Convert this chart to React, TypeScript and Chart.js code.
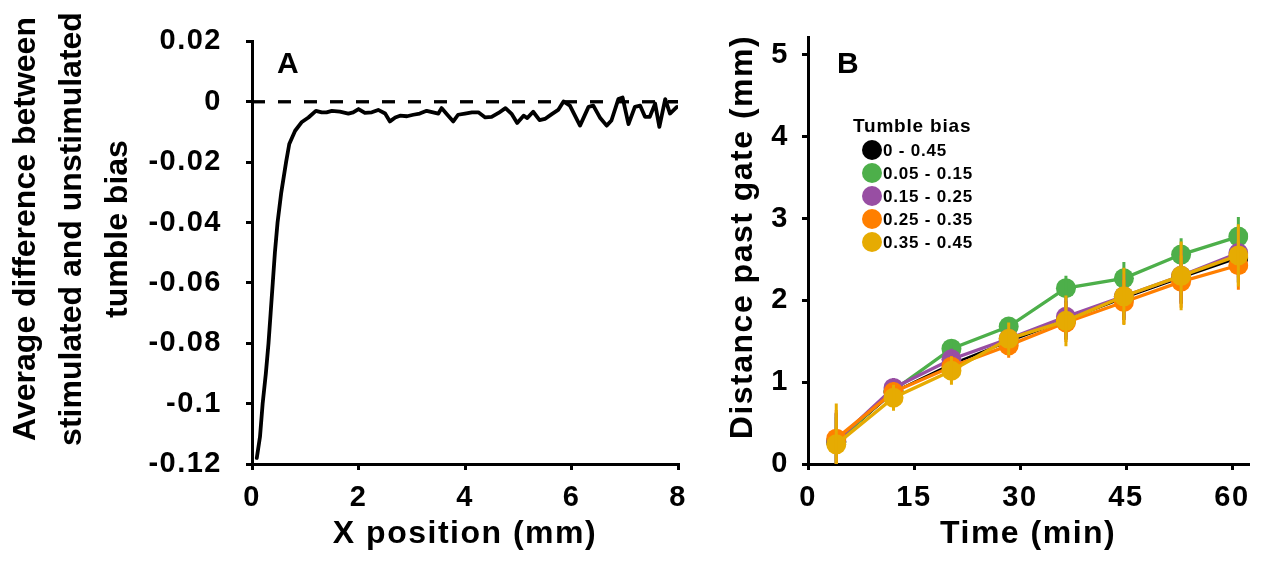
import React, { useEffect, useRef } from 'react';
import { Chart, registerables } from 'chart.js';

Chart.register(...registerables);

const FONT = '"Liberation Sans", Arial, Helvetica, sans-serif';
const TICK_SIZE = 29;
const TITLE_SIZE = 32;
const SPACING = '1.5px';

// ---------- Panel A ----------
const xPositionA = [
  0.09, 0.15, 0.2, 0.26, 0.31, 0.35, 0.39, 0.43, 0.48, 0.55,
  0.64, 0.7, 0.81, 0.93, 1.06, 1.2, 1.31, 1.4, 1.5, 1.65,
  1.81, 1.9, 2.0, 2.12, 2.25, 2.37, 2.5, 2.59, 2.69, 2.78,
  2.91, 3.03, 3.15, 3.28, 3.4, 3.5, 3.56, 3.66, 3.78, 3.87,
  4.0, 4.13, 4.25, 4.38, 4.5, 4.63, 4.76, 4.88, 4.98, 5.1,
  5.17, 5.28, 5.4, 5.5, 5.63, 5.75, 5.85, 5.97, 6.16, 6.32,
  6.41, 6.54, 6.66, 6.75, 6.88, 6.96, 7.07, 7.19, 7.29, 7.38,
  7.47, 7.57, 7.65, 7.76, 7.85, 7.98,
];
const tumbleBiasDiffA = [
  -0.118, -0.111, -0.1, -0.09, -0.08, -0.07, -0.06, -0.05, -0.04, -0.03,
  -0.02, -0.014, -0.0096, -0.0068, -0.0052, -0.003, -0.0035, -0.0035, -0.003, -0.0033,
  -0.0039, -0.0035, -0.0024, -0.0037, -0.0035, -0.0027, -0.0039, -0.0065, -0.0052, -0.0046,
  -0.0048, -0.0043, -0.0039, -0.003, -0.0035, -0.0039, -0.0021, -0.0041, -0.0065, -0.0043,
  -0.0039, -0.0035, -0.0035, -0.0052, -0.005, -0.0037, -0.0021, -0.0041, -0.007, -0.0046,
  -0.0054, -0.0033, -0.0061, -0.0057, -0.0041, -0.0027, 0.0001, -0.0013, -0.0079, -0.0017,
  -0.0013, -0.0054, -0.0079, -0.0062, 0.0009, 0.0014, -0.0074, -0.0017, -0.0013, -0.005,
  -0.005, -0.0006, -0.0083, 0.0009, -0.0039, -0.0017,
];
const zeroLineX = [0, 8];
const zeroLineY = [0, 0];
const yTicksA = [-0.12, -0.1, -0.08, -0.06, -0.04, -0.02, 0, 0.02];
const yTickLabelsA = ['-0.12', '-0.1', '-0.08', '-0.06', '-0.04', '-0.02', '0', '0.02'];
const xTicksA = [0, 2, 4, 6, 8];
const xTickLabelsA = ['0', '2', '4', '6', '8'];
const yTitleA = ['Average difference between', 'stimulated and unstimulated', 'tumble bias'];
const xTitleA = 'X position (mm)';
const panelLabelA = 'A';

// ---------- Panel B ----------
const timeB = [4.0, 12.1, 20.3, 28.4, 36.5, 44.7, 52.8, 60.9];
const bias0to045 = [0.27, 0.88, 1.22, 1.5, 1.76, 2.03, 2.28, 2.52];
const bias005to015 = [0.27, 0.9, 1.41, 1.68, 2.15, 2.27, 2.56, 2.78];
const bias015to025 = [0.28, 0.93, 1.28, 1.53, 1.8, 2.05, 2.3, 2.58];
const bias025to035 = [0.31, 0.88, 1.19, 1.45, 1.73, 1.98, 2.23, 2.43];
const bias035to045 = [0.24, 0.81, 1.14, 1.53, 1.75, 2.05, 2.3, 2.55];
const err0to045 = [0.35, 0.12, 0.12, 0.15, 0.24, 0.27, 0.32, 0.3];
const err005to015 = [0.3, 0.1, 0.1, 0.1, 0.15, 0.2, 0.2, 0.24];
const err015to025 = [0.35, 0.12, 0.13, 0.15, 0.24, 0.27, 0.32, 0.3];
const err025to035 = [0.35, 0.12, 0.13, 0.15, 0.24, 0.27, 0.32, 0.3];
const err035to045 = [0.5, 0.16, 0.17, 0.2, 0.31, 0.35, 0.42, 0.38];
const seriesLabelsB = ['0 - 0.45', '0.05 - 0.15', '0.15 - 0.25', '0.25 - 0.35', '0.35 - 0.45'];
const seriesColorsB = ['#000000', '#4daf4a', '#984ea3', '#ff7f00', '#e6ab02'];
const yTicksB = [0, 1, 2, 3, 4, 5];
const yTickLabelsB = ['0', '1', '2', '3', '4', '5'];
const xTicksB = [0, 15, 30, 45, 60];
const xTickLabelsB = ['0', '15', '30', '45', '60'];
const yTitleB = 'Distance past gate (mm)';
const xTitleB = 'Time (min)';
const legendTitleB = 'Tumble bias';
const panelLabelB = 'B';

const spacingPlugin = {
  id: 'spacing',
  beforeUpdate(chart: any) {
    (chart.ctx as any).letterSpacing = SPACING;
  },
  beforeDraw(chart: any) {
    (chart.ctx as any).letterSpacing = SPACING;
  },
};

function axisCommon(ticks: number[], labels: string[], padding: number) {
  return {
    type: 'linear' as const,
    afterBuildTicks: (s: any) => {
      s.ticks = ticks.map((v) => ({ value: v }));
    },
    ticks: {
      color: '#000',
      padding,
      autoSkip: false,
      maxRotation: 0,
      minRotation: 0,
      font: { family: FONT, size: TICK_SIZE, weight: 'bold' as const },
      callback: (v: any) => {
        const i = ticks.indexOf(v);
        return i >= 0 ? labels[i] : '';
      },
    },
    grid: {
      display: true,
      drawOnChartArea: false,
      drawTicks: true,
      tickLength: 6,
      lineWidth: 3,
      color: '#000',
    },
    border: { display: true, color: '#000', width: 3 },
    title: { display: false },
  };
}

function drawRotated(ctx: CanvasRenderingContext2D, text: string, x: number, y: number) {
  ctx.save();
  ctx.translate(x, y);
  ctx.rotate(-Math.PI / 2);
  ctx.textAlign = 'center';
  ctx.textBaseline = 'alphabetic';
  ctx.fillText(text, 0, 0);
  ctx.restore();
}

const textPluginA = {
  id: 'textA',
  afterDraw(chart: any) {
    const ctx: CanvasRenderingContext2D = chart.ctx;
    const ca = chart.chartArea;
    ctx.save();
    (ctx as any).letterSpacing = SPACING;
    ctx.fillStyle = '#000';
    ctx.font = `bold ${TITLE_SIZE}px ${FONT}`;
    ctx.textAlign = 'center';
    ctx.textBaseline = 'alphabetic';
    ctx.fillText(xTitleA, (ca.left + ca.right) / 2, 543);
    (ctx as any).letterSpacing = '0px';
    ctx.font = `bold 32px ${FONT}`;
    const baselines = [35, 81, 127];
    yTitleA.forEach((line, i) => drawRotated(ctx, line, baselines[i], 229));
    (ctx as any).letterSpacing = SPACING;
    ctx.font = `bold 30px ${FONT}`;
    ctx.textAlign = 'left';
    ctx.fillText(panelLabelA, ca.left + 25, 73);
    ctx.restore();
  },
};

const errorBarPlugin = {
  id: 'errorBars',
  afterDatasetDraw(chart: any, args: any) {
    const ds = chart.data.datasets[args.index];
    const errs: number[] | undefined = ds.errors;
    if (!errs) return;
    const ctx: CanvasRenderingContext2D = chart.ctx;
    const ca = chart.chartArea;
    const xs = chart.scales.x;
    const ys = chart.scales.y;
    ctx.save();
    ctx.beginPath();
    ctx.rect(ca.left, ca.top, ca.right - ca.left, ca.bottom - ca.top);
    ctx.clip();
    ctx.strokeStyle = ds.borderColor;
    ctx.lineWidth = 3;
    ds.data.forEach((p: any, i: number) => {
      const x = xs.getPixelForValue(p.x);
      const y1 = ys.getPixelForValue(p.y - errs[i]);
      const y2 = ys.getPixelForValue(p.y + errs[i]);
      ctx.beginPath();
      ctx.moveTo(x, y1);
      ctx.lineTo(x, y2);
      ctx.stroke();
    });
    ctx.restore();
  },
};

const textPluginB = {
  id: 'textB',
  afterDraw(chart: any) {
    const ctx: CanvasRenderingContext2D = chart.ctx;
    const ca = chart.chartArea;
    ctx.save();
    (ctx as any).letterSpacing = SPACING;
    ctx.fillStyle = '#000';
    ctx.font = `bold ${TITLE_SIZE}px ${FONT}`;
    ctx.textAlign = 'center';
    ctx.textBaseline = 'alphabetic';
    ctx.fillText(xTitleB, (ca.left + ca.right) / 2, 543);
    drawRotated(ctx, yTitleB, 52, 237);
    ctx.font = `bold 30px ${FONT}`;
    ctx.textAlign = 'left';
    ctx.fillText(panelLabelB, ca.left + 29, 73);
    // legend
    (ctx as any).letterSpacing = '0.8px';
    ctx.font = `bold 19px ${FONT}`;
    ctx.fillText(legendTitleB, ca.left + 45, 132);
    ctx.font = `bold 17px ${FONT}`;
    ctx.textBaseline = 'middle';
    chart.data.datasets.forEach((ds: any, i: number) => {
      const cy = 150 + i * 23;
      ctx.beginPath();
      ctx.fillStyle = ds.borderColor;
      ctx.arc(ca.left + 64, cy, 10, 0, Math.PI * 2);
      ctx.fill();
      ctx.fillStyle = '#000';
      ctx.fillText(ds.label, ca.left + 75, cy + 1);
    });
    ctx.restore();
  },
};

export default function App() {
  const refA = useRef<HTMLCanvasElement>(null);
  const refB = useRef<HTMLCanvasElement>(null);

  useEffect(() => {
    if (!refA.current || !refB.current) return;

    const chartA = new Chart(refA.current, {
      type: 'scatter',
      data: {
        datasets: [
          {
            label: 'difference',
            data: xPositionA.map((x, i) => ({ x, y: tumbleBiasDiffA[i] })),
            showLine: true,
            borderColor: '#000',
            borderWidth: 3.8,
            pointRadius: 0,
            borderJoinStyle: 'round',
            borderCapStyle: 'round',
          },
          {
            label: 'zero',
            data: zeroLineX.map((x, i) => ({ x, y: zeroLineY[i] })),
            showLine: true,
            borderColor: '#000',
            borderWidth: 3.3,
            borderDash: [13, 13],
            pointRadius: 0,
          },
        ],
      },
      options: {
        responsive: false,
        animation: false,
        devicePixelRatio: 1,
        layout: { padding: { left: 0, top: 40, right: 22, bottom: 0 } },
        plugins: { legend: { display: false }, tooltip: { enabled: false } },
        scales: {
          x: {
            ...axisCommon(xTicksA, xTickLabelsA, 11),
            min: 0,
            max: 8,
            afterFit: (s: any) => {
              s.height = 97;
            },
          },
          y: {
            ...axisCommon(yTicksA, yTickLabelsA, 24),
            min: -0.12,
            max: 0.02,
            afterFit: (s: any) => {
              s.width = 252;
            },
          },
        },
      } as any,
      plugins: [spacingPlugin, textPluginA],
    });

    const seriesB = [bias0to045, bias005to015, bias015to025, bias025to035, bias035to045];
    const errsB = [err0to045, err005to015, err015to025, err025to035, err035to045];
    const ordersB = [5, 4, 3, 2, 1];

    const chartB = new Chart(refB.current, {
      type: 'scatter',
      data: {
        datasets: seriesB.map((vals, k) => ({
          label: seriesLabelsB[k],
          data: timeB.map((x, i) => ({ x, y: vals[i] })),
          errors: errsB[k],
          showLine: true,
          borderColor: seriesColorsB[k],
          backgroundColor: seriesColorsB[k],
          borderWidth: k === 0 ? 2.5 : 3.3,
          pointRadius: 10,
          pointBorderWidth: 0,
          pointBackgroundColor: seriesColorsB[k],
          order: ordersB[k],
        })) as any,
      },
      options: {
        responsive: false,
        animation: false,
        devicePixelRatio: 1,
        layout: { padding: { left: 0, top: 37, right: 4, bottom: 0 } },
        plugins: { legend: { display: false }, tooltip: { enabled: false } },
        scales: {
          x: {
            ...axisCommon(xTicksB, xTickLabelsB, 11),
            min: 0,
            max: 62.3,
            afterFit: (s: any) => {
              s.height = 97;
            },
          },
          y: {
            ...axisCommon(yTicksB, yTickLabelsB, 13),
            min: 0,
            max: 5.22,
            afterFit: (s: any) => {
              s.width = 108;
            },
          },
        },
      } as any,
      plugins: [spacingPlugin, errorBarPlugin, textPluginB],
    });

    return () => {
      chartA.destroy();
      chartB.destroy();
    };
  }, []);

  return (
    <div style={{ position: 'absolute', left: 0, top: 0, width: 1261, height: 561, background: '#fff' }}>
      <canvas
        ref={refA}
        width={700}
        height={561}
        style={{ position: 'absolute', left: 0, top: 0, width: 700, height: 561 }}
      />
      <canvas
        ref={refB}
        width={561}
        height={561}
        style={{ position: 'absolute', left: 700, top: 0, width: 561, height: 561 }}
      />
    </div>
  );
}
